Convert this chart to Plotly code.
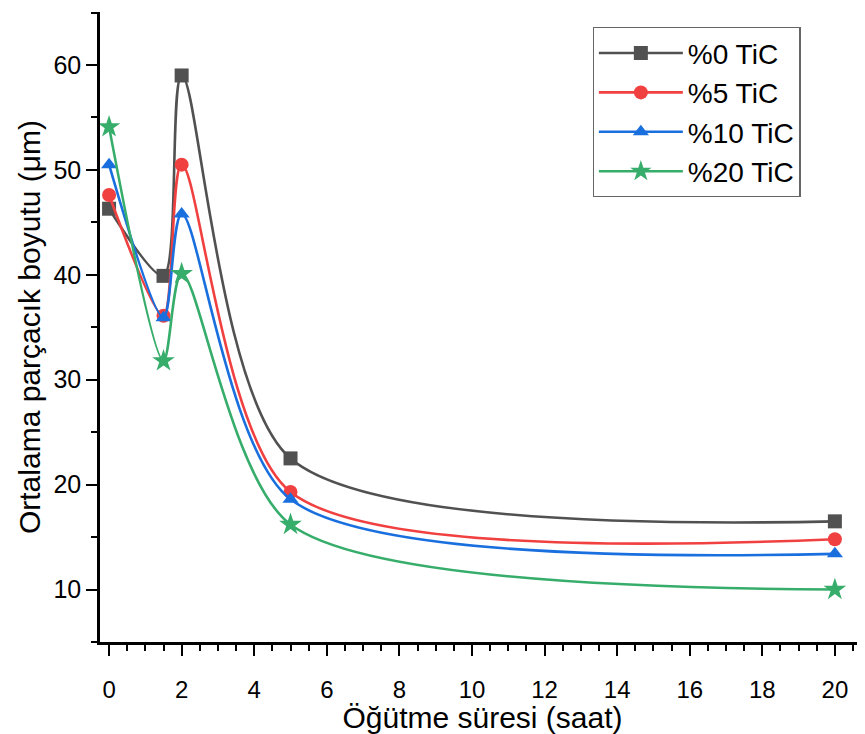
import plotly.graph_objects as go

time_h = [0, 1.5, 2, 5, 20]
tic0 = [46.3, 39.9, 59.0, 22.5, 16.5]
tic5 = [47.6, 36.1, 50.5, 19.3, 14.8]
tic10 = [50.5, 35.9, 45.8, 18.6, 13.4]
tic20 = [54.1, 31.8, 40.1, 16.2, 10.0]

series = [
    ("%0 TiC", tic0, "#515151", "square"),
    ("%5 TiC", tic5, "#F14040", "circle"),
    ("%10 TiC", tic10, "#1A6FDF", "triangle-up"),
    ("%20 TiC", tic20, "#37AD6B", "star"),
]

fig = go.Figure()
for name, ys, col, sym in series:
    fig.add_trace(go.Scatter(
        x=time_h, y=ys, name=name, mode="lines+markers",
        line=dict(color=col, width=2.6, shape="spline", smoothing=0.8),
        marker=dict(symbol=sym, size=14 if sym != "star" else 17, color=col, line=dict(width=0)),
    ))

font = "Liberation Sans, Arial, sans-serif"
# page has an 8px body margin: figure is placed at (8, 8)
fig.update_layout(
    width=857, height=726,
    margin=dict(l=92, r=0, t=4, b=92),
    paper_bgcolor="white", plot_bgcolor="white",
    font=dict(family=font, color="black"),
    showlegend=True,
    legend=dict(
        x=0.644, y=0.976, xanchor="left", yanchor="top",
        bgcolor="rgba(255,255,255,0.9)", bordercolor="#666", borderwidth=1.2,
        font=dict(size=28, family=font), tracegroupgap=0, itemwidth=84,
    ),
    xaxis=dict(
        range=[-0.25, 20.83], showgrid=False, zeroline=False, automargin=False,
        showline=True, linecolor="black", linewidth=2.5,
        ticks="outside", ticklen=11, tickwidth=2, tickcolor="black",
        tick0=0, dtick=2, tickfont=dict(size=24), ticklabelstandoff=13,
        minor=dict(ticks="outside", dtick=0.5, ticklen=6, tickwidth=2, tickcolor="black"),
        title=dict(text="Öğütme süresi (saat)", font=dict(size=30), standoff=2),
    ),
    yaxis=dict(
        range=[5, 65.05], showgrid=False, zeroline=False, automargin=False,
        showline=True, linecolor="black", linewidth=2.5,
        ticks="outside", ticklen=11, tickwidth=2, tickcolor="black",
        tick0=0, dtick=10, tickfont=dict(size=25), ticklabelstandoff=0,
        minor=dict(ticks="outside", dtick=5, ticklen=6, tickwidth=2, tickcolor="black"),
        title=dict(text="Ortalama parçacık boyutu (μm)", font=dict(size=30), standoff=4),
    ),
)

fig.write_html("out.html")
